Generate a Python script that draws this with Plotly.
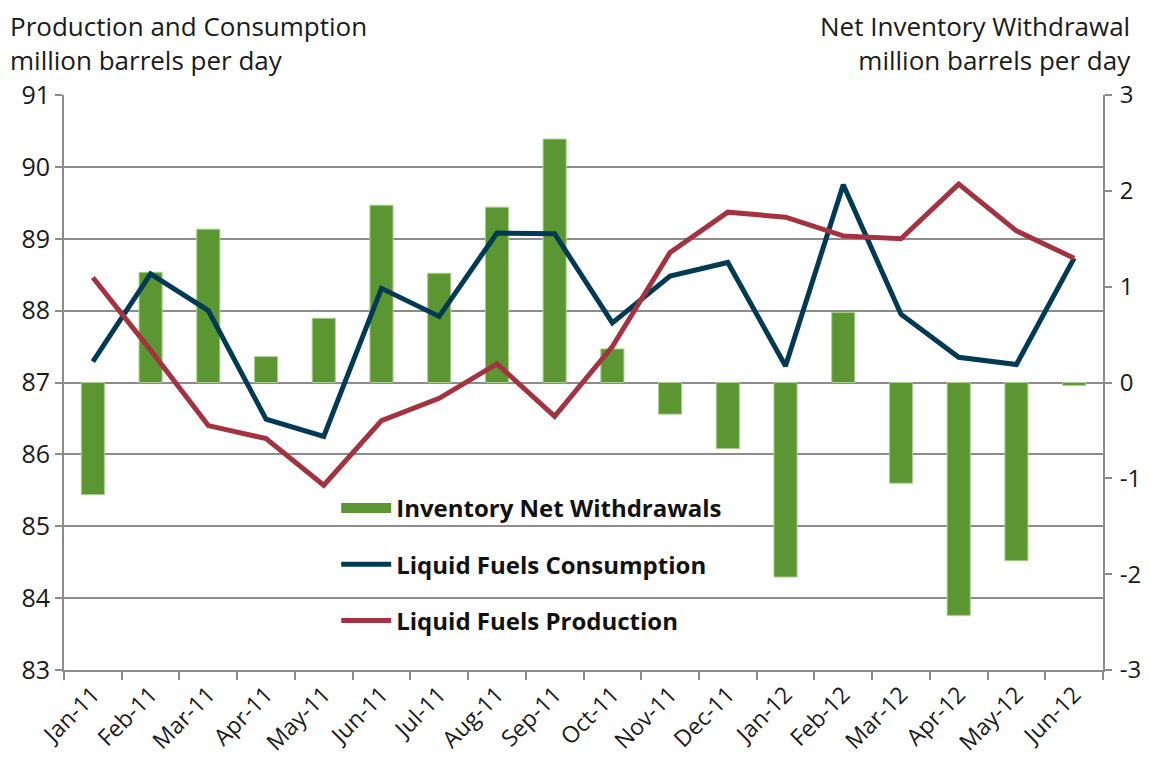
import plotly.graph_objects as go

months = ["Jan-11", "Feb-11", "Mar-11", "Apr-11", "May-11", "Jun-11", "Jul-11", "Aug-11", "Sep-11",
          "Oct-11", "Nov-11", "Dec-11", "Jan-12", "Feb-12", "Mar-12", "Apr-12", "May-12", "Jun-12"]

inventory_withdrawals = [-1.17, 1.15, 1.60, 0.27, 0.67, 1.85, 1.14, 1.83, 2.54,
                         0.35, -0.33, -0.69, -2.03, 0.73, -1.05, -2.43, -1.86, -0.03]

consumption = [87.29, 88.51, 88.00, 86.49, 86.25, 88.31, 87.92, 89.08, 89.07,
               87.83, 88.48, 88.67, 87.23, 89.75, 87.95, 87.35, 87.25, 88.73]

production = [88.46, 87.45, 86.40, 86.22, 85.57, 86.47, 86.78, 87.26, 86.53,
              87.50, 88.81, 89.37, 89.30, 89.04, 89.00, 89.76, 89.11, 88.73]

right_tick_values = [-3, -2, -1, 0, 1, 2, 3]
right_tick_labels = ["-3", "-2", "-1", "0", "1", "2", "3"]

GREEN = "#5C9632"
NAVY = "#003A54"
RED = "#A33340"
GRID = "#8C8C8C"
FONT = "Open Sans"

fig = go.Figure()

# Bars (right axis, primary y)
fig.add_trace(go.Bar(
    x=months, y=inventory_withdrawals, name="Inventory Net Withdrawals",
    marker=dict(color=GREEN, line=dict(color="#A9CF8C", width=1)),
    width=0.4, yaxis="y", showlegend=False,
))
# legend proxy for bars
fig.add_trace(go.Scatter(
    x=[None], y=[None], mode="lines", name="Inventory Net Withdrawals",
    line=dict(color=GREEN, width=17), yaxis="y2", legendgroup="a",
))
fig.add_trace(go.Scatter(
    x=months, y=consumption, mode="lines", name="Liquid Fuels Consumption",
    line=dict(color=NAVY, width=5), yaxis="y2", legendgroup="b",
))
fig.add_trace(go.Scatter(
    x=months, y=production, mode="lines", name="Liquid Fuels Production",
    line=dict(color=RED, width=5), yaxis="y2", legendgroup="c",
))

fig.update_layout(
    width=1142, height=749,
    margin=dict(l=56, r=47, t=87, b=87, autoexpand=False),
    plot_bgcolor="white", paper_bgcolor="white",
    font=dict(family=FONT, size=22, color="#1a1a1a"),
    xaxis=dict(
        type="category", tickangle=-45, tickfont=dict(size=23), automargin=False,
        showline=True, linecolor=GRID, linewidth=2,
        ticks="outside", tickson="boundaries", ticklen=8, tickcolor=GRID, tickwidth=2,
        showgrid=False, range=[-0.5, 17.5],
    ),
    yaxis=dict(
        range=[-3, 3], tickmode="array", tickvals=right_tick_values, ticktext=right_tick_labels,
        side="right", showgrid=False, zeroline=False, automargin=False,
        showline=True, linecolor=GRID, linewidth=2,
        ticks="outside", ticklen=7, tickcolor=GRID, tickwidth=2,
        tickfont=dict(size=24), ticklabelstandoff=3,
    ),
    yaxis2=dict(
        range=[83, 91], dtick=1, side="left", overlaying="y", automargin=False,
        showgrid=True, gridcolor=GRID, gridwidth=2, zeroline=False,
        showline=True, linecolor=GRID, linewidth=2,
        ticks="outside", ticklen=7, tickcolor=GRID, tickwidth=2,
        tickfont=dict(size=25),
    ),
    legend=dict(
        x=0.262, y=0.320, xanchor="left", yanchor="top",
        bgcolor="rgba(0,0,0,0)", font=dict(size=24, weight="bold", color="#111"),
        itemwidth=50, tracegroupgap=22, traceorder="grouped",
    ),
    showlegend=True,
    annotations=[
        dict(text="Production and Consumption<br>million barrels per day",
             xref="paper", yref="paper", x=-0.0539, y=1.154, xanchor="left", yanchor="top",
             align="left", showarrow=False, font=dict(size=26, color="#1a1a1a")),
        dict(text="Net Inventory Withdrawal<br>million barrels per day",
             xref="paper", yref="paper", x=1.0289, y=1.154, xanchor="right", yanchor="top",
             align="right", showarrow=False, font=dict(size=26, color="#1a1a1a")),
    ],
)

fig.write_html("out.html")
